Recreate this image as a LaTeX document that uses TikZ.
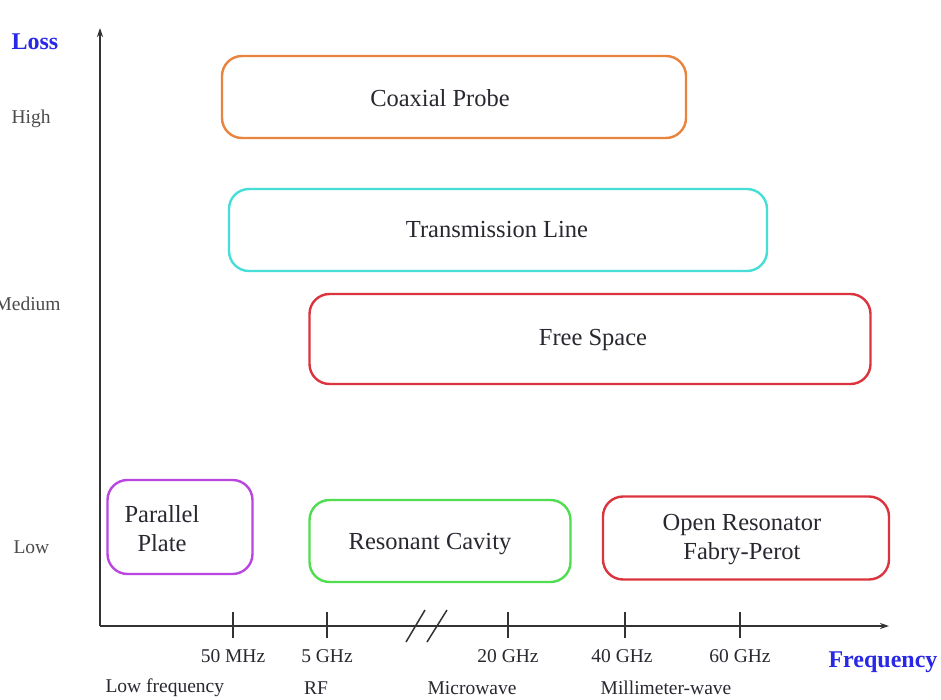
\documentclass[tikz,border=0pt]{standalone}
\usepackage{fontspec}
\setmainfont{Liberation Serif}
\usetikzlibrary{arrows.meta}
\definecolor{txt}{RGB}{40,40,48}
\definecolor{lbl}{RGB}{75,75,75}
\definecolor{axblue}{RGB}{40,40,230}
\definecolor{corange}{RGB}{232,132,62}
\definecolor{ccyan}{RGB}{70,222,215}
\definecolor{cred}{RGB}{220,52,62}
\definecolor{cpurple}{RGB}{185,70,225}
\definecolor{cgreen}{RGB}{80,222,80}
\tikzset{
  band/.style={draw, line width=2.4pt, rounded corners=20pt, fill=white, inner sep=0pt},
  btext/.style={font=\fontsize{24.5}{29}\selectfont, text=txt, align=center},
  small/.style={font=\fontsize{19.5}{22}\selectfont, text=txt},
  ylab/.style={font=\fontsize{19.5}{22}\selectfont, text=lbl, anchor=west},
  bluelab/.style={font=\bfseries\fontsize{24}{27}\selectfont, text=axblue},
  axis/.style={draw=black!80, line width=1.8pt},
  tick/.style={draw=black!80, line width=1.5pt}
}
\begin{document}
\begin{tikzpicture}[x=1pt,y=-1pt]
\useasboundingbox (0,0) rectangle (941,700);
\fill[white] (0,0) rectangle (941,700);

% axes
\coordinate (O) at (100,626);
\coordinate (ytop) at (100,28);
\coordinate (xend) at (889,626);
\draw[axis, -{Stealth[length=9pt,width=6pt]}] (O) -- (ytop);
\draw[axis, -{Stealth[length=9pt,width=6pt]}] (O) -- (xend);

% break marks
\coordinate (b1a) at (406,642); \coordinate (b1b) at (425,610);
\coordinate (b2a) at (427,642); \coordinate (b2b) at (447,610);
\draw[tick] (b1a) -- (b1b);
\draw[tick] (b2a) -- (b2b);

% ticks
\foreach \x/\n in {233/t1,327/t2,508/t3,625/t4,740/t5}{
  \coordinate (\n a) at (\x,612);
  \coordinate (\n b) at (\x,638);
  \draw[tick] (\n a) -- (\n b);
}

% tick labels
\node[small] (l50) at (233,656) {50 MHz};
\node[small] (l5) at (327,656) {5 GHz};
\node[small] (l20) at (508,656) {20 GHz};
\node[small] (l40) at (622,656) {40 GHz};
\node[small] (l60) at (740,656) {60 GHz};

\node[small, anchor=west] (lowf) at (102,688) {Low frequency};
\node[small] (rf) at (316,688) {RF};
\node[small] (mw) at (472,688) {Microwave};
\node[small] (mm) at (666,688) {Millimeter-wave};

\node[bluelab] (freq) at (883,662) {Frequency};

% y labels
\node[bluelab, anchor=west] (loss) at (8,42) {Loss};
\node[ylab] (high) at (8,119) {High};
\node[ylab] (med) at (-9,304) {Medium};
\node[ylab] (low) at (10,547) {Low};

% bands
\node[band, draw=corange, minimum width=464pt, minimum height=82pt] (coax) at (454,97) {};
\node[btext] (coaxt) at (440,98) {Coaxial Probe};

\node[band, draw=ccyan, minimum width=538pt, minimum height=82pt] (tline) at (498,230) {};
\node[btext] (tlinet) at (497,230) {Transmission Line};

\node[band, draw=cred, minimum width=561pt, minimum height=90pt] (fspace) at (590,339) {};
\node[btext] (fspacet) at (593,340) {Free Space};

\node[band, draw=cpurple, minimum width=145pt, minimum height=94pt] (pp) at (180,527) {};
\node[btext] (ppt) at (162,529) {Parallel\\Plate};

\node[band, draw=cgreen, minimum width=261pt, minimum height=82pt] (rc) at (440,541) {};
\node[btext] (rct) at (430,544) {Resonant Cavity};

\node[band, draw=cred, minimum width=286pt, minimum height=83pt] (or) at (746,538) {};
\node[btext] (ort) at (742,540) {Open Resonator\\Fabry-Perot};
\end{tikzpicture}
\end{document}
